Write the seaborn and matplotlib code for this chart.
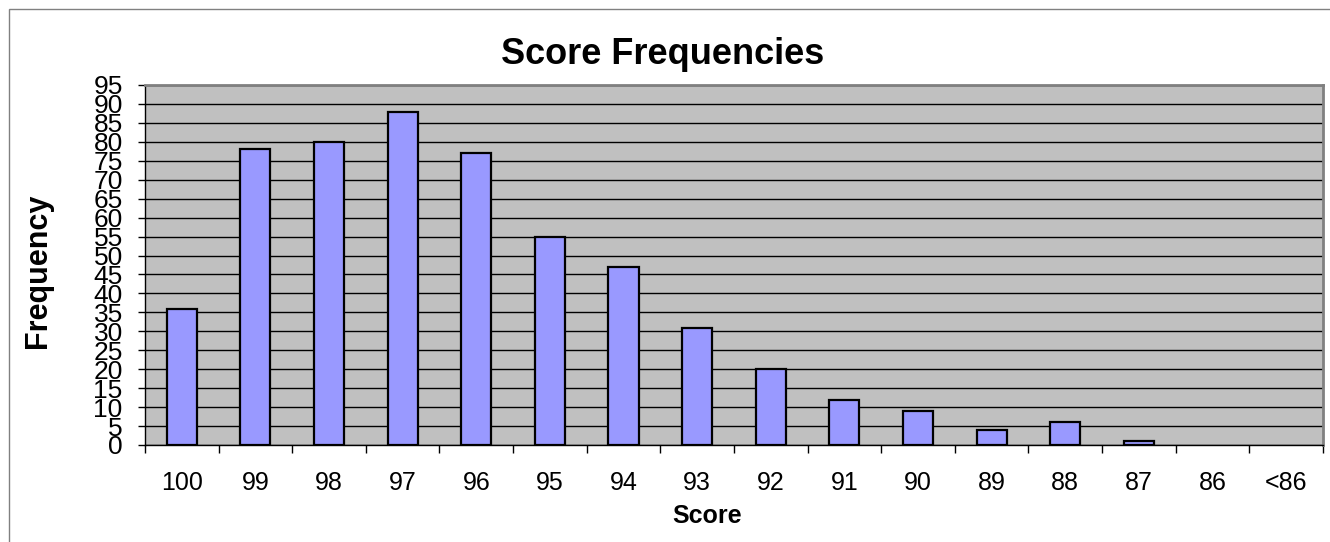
import numpy as np
import pandas as pd
import matplotlib
matplotlib.use("Agg")
import matplotlib.pyplot as plt
import seaborn as sns
from matplotlib.patches import Rectangle

scores = ['100', '99', '98', '97', '96', '95', '94', '93', '92', '91', '90', '89', '88', '87', '86', '<86']
frequency = [36, 78, 80, 88, 77, 55, 47, 31, 20, 12, 9, 4, 6, 1, 0, 0]

df = pd.DataFrame({'score': scores, 'freq': frequency})

sns.set_style('white')
plt.rcParams['font.family'] = ['Liberation Sans', 'DejaVu Sans']
plt.rcParams['text.color'] = 'black'
plt.rcParams['axes.labelcolor'] = 'black'
plt.rcParams['xtick.color'] = 'black'
plt.rcParams['ytick.color'] = 'black'

fig = plt.figure(figsize=(13.3, 5.42), dpi=100)
ax = fig.add_axes([0.109, 0.179, 0.8857, 0.6642])
ax.set_facecolor('#C0C0C0')

sns.barplot(data=df, x='score', y='freq', color='#9999FF', width=0.41,
            edgecolor='black', linewidth=1.6, saturation=1, ax=ax, zorder=3)

# empty categories show nothing in the original
for p in ax.patches:
    if p.get_height() == 0:
        p.set_visible(False)

ax.set_xlim(-0.5, len(scores) - 0.5)
ax.set_ylim(0, 95)
ax.set_yticks(np.arange(0, 96, 5))
ax.tick_params(axis='y', labelsize=19, length=5, width=1, pad=11, direction='out', left=True)
ax.grid(axis='y', color='black', linewidth=1, zorder=1)
ax.set_axisbelow(True)

# category ticks at the boundaries, labels at the centres
ax.set_xticks(np.arange(-0.5, len(scores), 1.0))
ax.set_xticklabels([])
ax.set_xticks(np.arange(len(scores)), minor=True)
ax.set_xticklabels(scores, minor=True, fontsize=18)
ax.tick_params(axis='x', which='major', length=6, width=1, bottom=True, direction='out')
ax.tick_params(axis='x', which='minor', length=0, pad=19)

for side in ['left', 'bottom']:
    ax.spines[side].set_color('black')
    ax.spines[side].set_linewidth(1)
for side in ['top', 'right']:
    ax.spines[side].set_color('#808080')
    ax.spines[side].set_linewidth(2)
    ax.spines[side].set_visible(True)

fig.text(663 / 1330, 1 - 54 / 542, 'Score Frequencies', fontsize=26,
         fontweight='bold', ha='center', va='center')
ax.set_xlabel('Score', fontsize=18, fontweight='bold')
ax.xaxis.set_label_coords(0.477, -0.165)
ax.set_ylabel('Frequency', fontsize=22, fontweight='bold')
ax.yaxis.set_label_coords(-0.078, 0.485)

fig.patches.append(Rectangle((9 / 1330, -0.01), 1.0, 1 - 9 / 542 + 0.01,
                             transform=fig.transFigure, fill=False,
                             edgecolor='#808080', linewidth=1))

fig.savefig('out.png', dpi=100)
